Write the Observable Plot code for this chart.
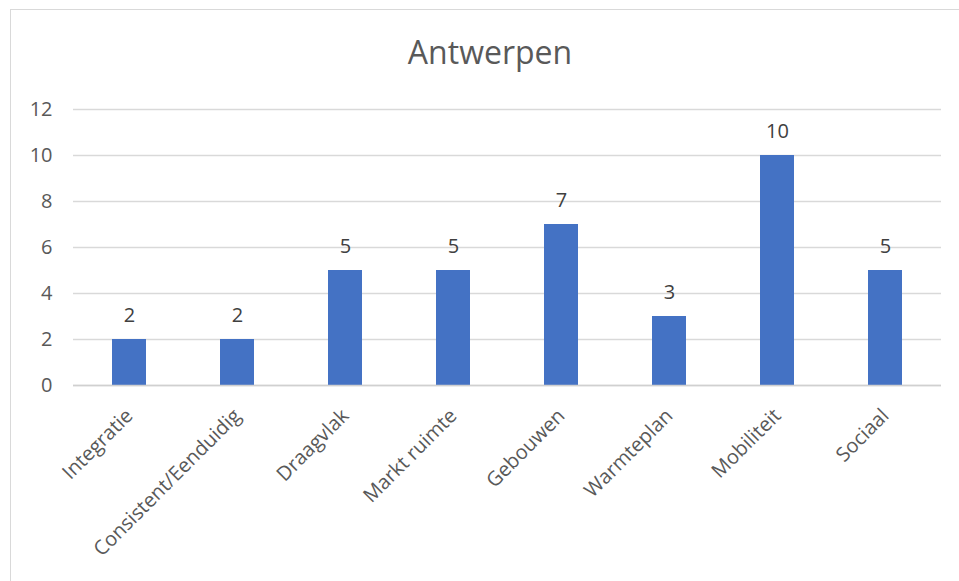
<!DOCTYPE html>
<html>
<head>
<meta charset="utf-8">
<script src="https://cdn.jsdelivr.net/npm/d3@7"></script>
<script src="https://cdn.jsdelivr.net/npm/@observablehq/plot@0.6"></script>
<style>
  html, body { margin: 0; padding: 0; background: #fff; }
  #wrap { position: relative; width: 959px; height: 581px; overflow: hidden; font-family: "Open Sans", sans-serif; }
  #frame { position: absolute; left: 10px; top: 9px; width: 980px; height: 600px; border: 1px solid #d9d9d9; box-sizing: border-box; }
  #title { position: absolute; left: 0; top: 0; width: 980px; height: 95px; text-align: center; font-size: 32px; color: #595959; line-height: 1; padding-top: 36px; box-sizing: border-box; }
  #chart { position: absolute; left: 0; top: 95px; }
  #chart svg text { font-family: "Open Sans", sans-serif; }
</style>
</head>
<body>
<div id="wrap">
  <div id="frame"></div>
  <div id="title">Antwerpen</div>
  <div id="chart"></div>
</div>
<script>
const categories = ["Integratie", "Consistent/Eenduidig", "Draagvlak", "Markt ruimte", "Gebouwen", "Warmteplan", "Mobiliteit", "Sociaal"];
const values = [2, 2, 5, 5, 7, 3, 10, 5];
const yTicks = [0, 2, 4, 6, 8, 10, 12];

const data = categories.map((c, i) => ({category: c, value: values[i]}));

const plot = Plot.plot({
  width: 959,
  height: 486,
  marginLeft: 73,
  marginRight: 18,
  marginTop: 14,
  marginBottom: 196,
  style: {fontFamily: "Open Sans, sans-serif", fontSize: "20px", color: "#595959", background: "transparent"},
  x: {domain: categories, paddingInner: 0.687, paddingOuter: 0.3435, label: null},
  y: {domain: [0, 12], label: null},
  marks: [
    Plot.gridY(yTicks, {stroke: "#d9d9d9", strokeOpacity: 1, strokeWidth: 1.3}),
    Plot.axisY({ticks: yTicks, tickSize: 0, tickPadding: 21, label: null, fontSize: 20, fill: "#595959"}),
    Plot.barY(data, {x: "category", y: "value", fill: "#4472C4"}),
    Plot.ruleY([0], {stroke: "#d0d0d0", strokeWidth: 1.5}),
    Plot.text(data, {x: "category", y: "value", text: d => String(d.value), dy: -24, fontSize: 20, fill: "#404040"}),
    Plot.axisX({tickSize: 0, tickRotate: -45, tickPadding: 27, label: null, fontSize: 20, fill: "#595959"})
  ]
});
document.getElementById("chart").appendChild(plot);
</script>
</body>
</html>
